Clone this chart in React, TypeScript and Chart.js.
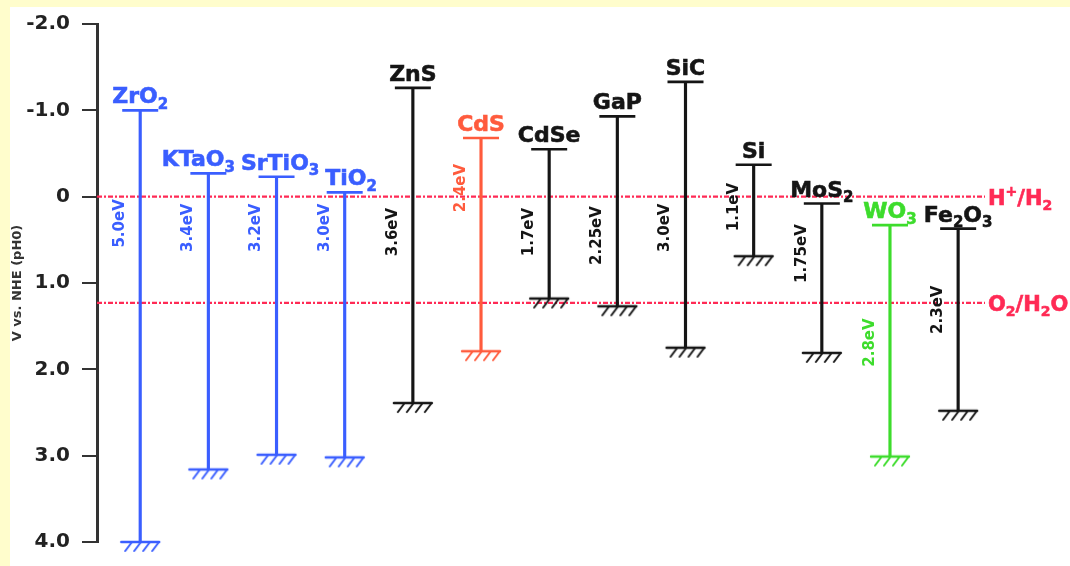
import React, { useEffect, useRef } from 'react';
import { Chart, registerables } from 'chart.js';

Chart.register(...registerables);

// ---------------- data ----------------
const materials = ['ZrO₂', 'KTaO₃', 'SrTiO₃', 'TiO₂', 'ZnS', 'CdS', 'CdSe', 'GaP', 'SiC', 'Si', 'MoS₂', 'WO₃', 'Fe₂O₃'];
const conductionBand = [-1.0, -0.27, -0.23, -0.05, -1.26, -0.68, -0.55, -0.93, -1.33, -0.37, 0.08, 0.33, 0.37];
const valenceBand = [4.0, 3.16, 2.99, 3.02, 2.39, 1.79, 1.18, 1.27, 1.75, 0.69, 1.81, 3.01, 2.48];
const bandGapLabels = ['5.0eV', '3.4eV', '3.2eV', '3.0eV', '3.6eV', '2.4eV', '1.7eV', '2.25eV', '3.0eV', '1.1eV', '1.75eV', '2.8eV', '2.3eV'];
const bandGapLabelAt = [0.31, 0.36, 0.36, 0.36, 0.41, -0.1, 0.41, 0.45, 0.36, 0.12, 0.66, 1.69, 1.31];
const yTickValues = [-2, -1, 0, 1, 2, 3, 4];
const yTickLabels = ['-2.0', '-1.0', '0', '1.0', '2.0', '3.0', '4.0'];
const redoxLevels = [0, 1.23];
const redoxLabels = ['H⁺/H₂', 'O₂/H₂O'];
const yTitle = 'V vs. NHE (pH0)';

// ---------------- styles ----------------
const FONT = '"DejaVu Sans", "Liberation Sans", sans-serif';
const BLUE = '#3a5eff';
const RED = '#ff5b3d';
const GREEN = '#3ddc2c';
const BLACK = '#151515';
const REDOX = '#ff2a55';
const materialColors = [BLUE, BLUE, BLUE, BLUE, BLACK, RED, BLACK, BLACK, BLACK, BLACK, BLACK, GREEN, BLACK];
const NAME_SIZE = 22;

const SUBS = '₀₁₂₃₄₅₆₇₈₉';

type Seg = { t: string; k: number; w?: number };

function segments(text: string): Seg[] {
  const out: Seg[] = [];
  for (const ch of text) {
    const si = SUBS.indexOf(ch);
    if (si >= 0) out.push({ t: String(si), k: 1 });
    else if (ch === '⁺') out.push({ t: '+', k: 2 });
    else if (out.length && out[out.length - 1].k === 0) out[out.length - 1].t += ch;
    else out.push({ t: ch, k: 0 });
  }
  return out;
}

function richLayout(ctx: CanvasRenderingContext2D, text: string, size: number) {
  const segs = segments(text);
  const main = `bold ${size}px ${FONT}`;
  const small = `bold ${Math.round(size * 0.68)}px ${FONT}`;
  let w = 0;
  segs.forEach((g) => {
    ctx.font = g.k ? small : main;
    g.w = ctx.measureText(g.t).width;
    w += g.w;
  });
  return { segs, w, main, small };
}

function drawRich(ctx: CanvasRenderingContext2D, text: string, x: number, y: number, size: number, align: 'left' | 'center') {
  const { segs, w, main, small } = richLayout(ctx, text, size);
  let cx = align === 'center' ? x - w / 2 : x;
  ctx.textAlign = 'left';
  ctx.textBaseline = 'alphabetic';
  ctx.lineWidth = 0.6;
  ctx.strokeStyle = ctx.fillStyle as string;
  segs.forEach((g) => {
    ctx.font = g.k ? small : main;
    const dy = g.k === 1 ? size * 0.25 : g.k === 2 ? -size * 0.4 : 0;
    ctx.fillText(g.t, cx, y + dy);
    ctx.strokeText(g.t, cx, y + dy);
    cx += g.w || 0;
  });
}

function makeHatch(color: string): HTMLCanvasElement {
  const c = document.createElement('canvas');
  c.width = 46;
  c.height = 26;
  const g = c.getContext('2d')!;
  g.strokeStyle = color;
  g.lineCap = 'round';
  g.lineWidth = 2.4;
  g.beginPath();
  g.moveTo(4, 13);
  g.lineTo(42, 13);
  g.stroke();
  g.lineWidth = 2;
  for (let k = 0; k < 4; k++) {
    const x0 = 11 + k * 9;
    g.beginPath();
    g.moveTo(x0 + 3, 14);
    g.lineTo(x0 - 3, 22);
    g.stroke();
  }
  return c;
}

const decorPlugin = {
  id: 'decor',
  beforeDraw(chart: any) {
    const { ctx, width, height } = chart;
    ctx.save();
    ctx.fillStyle = '#fffdcc';
    ctx.fillRect(0, 0, width, height);
    ctx.fillStyle = '#ffffff';
    ctx.fillRect(10, 7, width - 10, height - 7);
    ctx.restore();
  },
  beforeDatasetsDraw(chart: any) {
    const { ctx, chartArea } = chart;
    const y = chart.scales.y;
    ctx.save();
    ctx.strokeStyle = REDOX;
    ctx.lineWidth = 2.2;
    ctx.setLineDash([5, 2, 2, 2]);
    redoxLevels.forEach((v) => {
      const py = y.getPixelForValue(v);
      ctx.beginPath();
      ctx.moveTo(chartArea.left, py);
      ctx.lineTo(chartArea.right, py);
      ctx.stroke();
    });
    ctx.restore();
  },
  afterDatasetsDraw(chart: any) {
    const { ctx, chartArea } = chart;
    const xs = chart.scales.x;
    const ys = chart.scales.y;
    ctx.save();

    // name labels, nudged apart when they would overlap
    const boxes = materials.map((name, i) => ({
      i,
      cx: xs.getPixelForValue(i),
      w: richLayout(ctx, name, NAME_SIZE).w,
      base: ys.getPixelForValue(conductionBand[i]) - 7,
    }));
    for (let it = 0; it < 60; it++) {
      for (let j = 0; j < boxes.length - 1; j++) {
        const a = boxes[j];
        const b = boxes[j + 1];
        if (Math.abs(a.base - b.base) > 20) continue;
        const ov = a.cx + a.w / 2 + 6 - (b.cx - b.w / 2);
        if (ov > 0.1) {
          a.cx -= ov / 2;
          b.cx += ov / 2;
        }
      }
    }
    boxes.forEach((bx) => {
      ctx.fillStyle = materialColors[bx.i];
      drawRich(ctx, materials[bx.i], bx.cx, bx.base, NAME_SIZE, 'center');
    });

    // band-gap labels
    materials.forEach((_, i) => {
      const px = xs.getPixelForValue(i);
      ctx.fillStyle = materialColors[i];
      ctx.save();
      ctx.translate(px - 20, ys.getPixelForValue(bandGapLabelAt[i]));
      ctx.rotate(-Math.PI / 2);
      ctx.font = `bold 15px ${FONT}`;
      ctx.textAlign = 'center';
      ctx.textBaseline = 'middle';
      ctx.fillText(bandGapLabels[i], 0, 0);
      ctx.restore();
    });

    // redox labels
    ctx.fillStyle = REDOX;
    redoxLevels.forEach((v, i) => {
      const py = ys.getPixelForValue(v);
      drawRich(ctx, redoxLabels[i], chartArea.right + 3, py + 8, 21, 'left');
    });
    ctx.restore();
  },
};

export default function App() {
  const ref = useRef<HTMLCanvasElement | null>(null);

  useEffect(() => {
    if (!ref.current) return;
    const hatchStyles: Record<string, HTMLCanvasElement> = {};
    [BLUE, RED, GREEN, BLACK].forEach((c) => (hatchStyles[c] = makeHatch(c)));
    const idx = materials.map((_, i) => i);

    const chart = new Chart(ref.current, {
      type: 'scatter',
      data: {
        datasets: [
          {
            type: 'bar',
            data: idx.map((i) => ({ x: i, y: [conductionBand[i], valenceBand[i]] })) as any,
            backgroundColor: materialColors,
            borderWidth: 0,
            barThickness: 2.5,
            clip: false as any,
          } as any,
          {
            type: 'scatter',
            data: idx.map((i) => ({ x: i, y: conductionBand[i] })),
            pointStyle: 'line',
            pointRadius: 18,
            pointBorderWidth: 2.6,
            pointBorderColor: materialColors,
            pointBackgroundColor: materialColors,
            clip: false as any,
          } as any,
          {
            type: 'scatter',
            data: idx.map((i) => ({ x: i, y: valenceBand[i] })),
            pointStyle: materialColors.map((c) => hatchStyles[c]),
            pointRadius: 10,
            clip: false as any,
          } as any,
        ],
      },
      options: {
        responsive: false,
        maintainAspectRatio: false,
        animation: false,
        events: [],
        layout: { padding: { top: 20, bottom: 16, left: 0, right: 85 } },
        plugins: { legend: { display: false }, tooltip: { enabled: false } },
        scales: {
          x: {
            type: 'linear',
            display: false,
            min: -0.634,
            max: 12.394,
            offset: false,
            grid: { offset: false, display: false },
          },
          y: {
            type: 'linear',
            reverse: true,
            min: -2,
            max: 4,
            afterFit: (scale: any) => {
              scale.width = 97;
            },
            ticks: {
              stepSize: 1,
              padding: 12,
              color: '#222',
              font: { family: FONT, weight: 'bold', size: 20 },
              callback: (v: any) => {
                const k = yTickValues.indexOf(Math.round(Number(v)));
                return k >= 0 ? yTickLabels[k] : '';
              },
            },
            grid: {
              drawOnChartArea: false,
              drawTicks: true,
              tickLength: 15,
              color: '#333',
              lineWidth: 2,
            },
            border: { display: true, color: '#333', width: 3 },
            title: {
              display: true,
              text: yTitle,
              color: '#333',
              font: { family: FONT, weight: 'bold', size: 13 },
              padding: { top: 10, bottom: 0 },
            },
          },
        },
      } as any,
      plugins: [decorPlugin],
    });
    return () => chart.destroy();
  }, []);

  return (
    <div style={{ position: 'fixed', left: 0, top: 0, width: 1070, height: 566 }}>
      <canvas ref={ref} width={1070} height={566} style={{ width: 1070, height: 566, display: 'block' }} />
    </div>
  );
}
